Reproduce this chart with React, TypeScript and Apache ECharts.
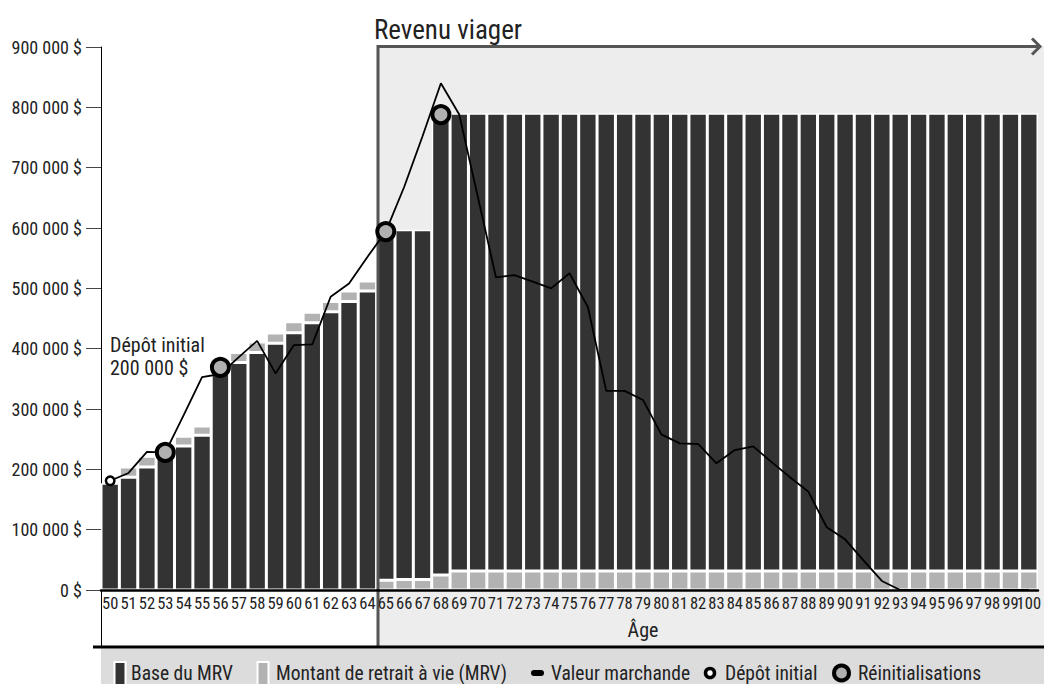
import React, { useEffect, useRef } from "react";
import * as echarts from "echarts";

const FONT = "'Liberation Sans Narrow', 'Roboto Condensed', 'DejaVu Sans Condensed', sans-serif";

const ages = [
  "50", "51", "52", "53", "54", "55", "56", "57", "58", "59",
  "60", "61", "62", "63", "64", "65", "66", "67", "68", "69",
  "70", "71", "72", "73", "74", "75", "76", "77", "78", "79",
  "80", "81", "82", "83", "84", "85", "86", "87", "88", "89",
  "90", "91", "92", "93", "94", "95", "96", "97", "98", "99", "100",
];

// Base du MRV (height of the dark bar)
const baseMRV = [
  177000, 187000, 204000, 220000, 238500, 256500, 367000, 377000, 393500, 409000,
  426500, 443000, 461000, 478000, 495500, 597000, 597000, 597000, 790000, 790000,
  790000, 790000, 790000, 790000, 790000, 790000, 790000, 790000, 790000, 790000,
  790000, 790000, 790000, 790000, 790000, 790000, 790000, 790000, 790000, 790000,
  790000, 790000, 790000, 790000, 790000, 790000, 790000, 790000, 790000, 790000, 790000,
];

// MRV shown on top of the base before 65
const mrvBefore = [
  null, 17000, 17500, 17000, 16500, 15500, 17000, 16500, 17500, 17000,
  18000, 17500, 17000, 17500, 16500, null, null, null, null, null,
  null, null, null, null, null, null, null, null, null, null,
  null, null, null, null, null, null, null, null, null, null,
  null, null, null, null, null, null, null, null, null, null, null,
];

// MRV shown at the bottom of the bar from 65
const mrvAfter = [
  null, null, null, null, null, null, null, null, null, null,
  null, null, null, null, null, 16000, 17500, 17500, 25000, 31500,
  31500, 31500, 31500, 31500, 31500, 31500, 31500, 31500, 31500, 31500,
  31500, 31500, 31500, 31500, 31500, 31500, 31500, 31500, 31500, 31500,
  31500, 31500, 31500, 31500, 31500, 31500, 31500, 31500, 31500, 31500, 31500,
];

// Valeur marchande
const marketValue = [
  181000, 194000, 229000, 228000, 290000, 353000, 358000, 386000, 413000, 359000,
  406000, 407000, 486000, 508000, 552000, 594000, 668000, 752000, 840000, 788000,
  653000, 518000, 522000, 511000, 500000, 525000, 469000, 330000, 330000, 315000,
  258000, 243000, 242000, 210000, 232000, 238000, 212000, 187000, 163000, 104000,
  84000, 49000, 15000, 0, 0, 0, 0, 0, 0, 0, 0,
];

const depositAge = ["50"];
const depositValue = [181000];

const resetAges = ["53", "56", "65", "68"];
const resetValues = [228000, 369000, 594000, 788000];

const yTickLabels = ["0 $", "100 000 $", "200 000 $", "300 000 $", "400 000 $", "500 000 $", "600 000 $", "700 000 $", "800 000 $", "900 000 $"];

const DARK = "#333333";
const GRAY = "#b2b2b2";

export default function App() {
  const ref = useRef<HTMLDivElement>(null);

  useEffect(() => {
    if (!ref.current) return;
    const chart = echarts.init(ref.current, undefined, { renderer: "svg" });

    const darkData = baseMRV.map((b, i) => (mrvAfter[i] != null ? b - (mrvAfter[i] as number) : b));

    const barCommon = {
      type: "bar",
      stack: "total",
      barCategoryGap: "0%",
      barGap: "0%",
      z: 2,
    };

    const txt = (text: string, x: number, y: number, size: number, extra: any = {}) => ({
      type: "text",
      x,
      y,
      z: 50,
      style: {
        text,
        fill: "#222",
        fontSize: size,
        fontFamily: FONT,
        textAlign: "left",
        textVerticalAlign: "middle",
        ...extra,
      },
    });

    const option: any = {
      animation: false,
      backgroundColor: "#ffffff",
      textStyle: { fontFamily: FONT },
      grid: { left: 101, top: 47, width: 940, height: 543, containLabel: false },
      xAxis: {
        type: "category",
        data: ages,
        z: 10,
        axisLine: { show: true, lineStyle: { color: "#000", width: 2.5 } },
        axisTick: { show: false },
        axisLabel: { interval: 0, color: "#222", fontSize: 16.5, margin: 5, fontFamily: FONT },
        splitLine: { show: false },
      },
      yAxis: {
        type: "value",
        min: 0,
        max: 900000,
        interval: 100000,
        axisLine: { show: true, lineStyle: { color: "#000", width: 1 } },
        axisTick: { show: true, length: 15, lineStyle: { color: "#444", width: 1 } },
        axisLabel: {
          margin: 19,
          color: "#222",
          fontSize: 18,
          fontFamily: FONT,
          formatter: (v: number) => yTickLabels[Math.round(v / 100000)],
        },
        splitLine: { show: false },
      },
      series: [
        {
          ...barCommon,
          name: "Montant de retrait à vie (MRV) après 65",
          data: mrvAfter,
          itemStyle: { color: GRAY, borderColor: "#fff", borderWidth: 1.5 },
        },
        {
          ...barCommon,
          name: "Base du MRV",
          data: darkData,
          itemStyle: { color: DARK, borderColor: "#fff", borderWidth: 1.5 },
        },
        {
          ...barCommon,
          name: "Montant de retrait à vie (MRV)",
          data: mrvBefore,
          itemStyle: { color: GRAY, borderColor: "#fff", borderWidth: 1.5 },
        },
        {
          type: "line",
          name: "Valeur marchande",
          data: marketValue,
          symbol: "none",
          z: 4,
          lineStyle: { color: "#000", width: 1.8 },
        },
        {
          type: "scatter",
          name: "Dépôt initial",
          data: depositAge.map((a, i) => [a, depositValue[i]]),
          symbol: "circle",
          symbolSize: 8.5,
          z: 6,
          itemStyle: { color: "#fff", borderColor: "#000", borderWidth: 2.5, opacity: 1 },
        },
        {
          type: "scatter",
          name: "Réinitialisations",
          data: resetAges.map((a, i) => [a, resetValues[i]]),
          symbol: "circle",
          symbolSize: 17,
          z: 6,
          itemStyle: { color: "#b0b0b0", borderColor: "#000", borderWidth: 4, opacity: 1 },
        },
      ],
      graphic: [
        // shaded "Revenu viager" zone
        { type: "rect", z: -1, shape: { x: 378, y: 46, width: 666, height: 601 }, style: { fill: "#ededed" } },
        // divider
        { type: "rect", z: 3, shape: { x: 376.5, y: 45, width: 3, height: 602 }, style: { fill: "#555" } },
        // top arrow
        { type: "line", z: 3, shape: { x1: 377, y1: 46.5, x2: 1040, y2: 46.5 }, style: { stroke: "#555", lineWidth: 3 } },
        {
          type: "polyline",
          z: 3,
          shape: { points: [[1032, 38.5], [1040, 46.5], [1032, 54.5]] },
          style: { stroke: "#555", lineWidth: 3, fill: null },
        },
        txt("Revenu viager", 374, 30, 27),
        // y axis extension and bottom line
        { type: "line", z: 3, shape: { x1: 101.5, y1: 590, x2: 101.5, y2: 647 }, style: { stroke: "#000", lineWidth: 1 } },
        { type: "line", z: 3, shape: { x1: 93, y1: 647, x2: 1044, y2: 647 }, style: { stroke: "#000", lineWidth: 3 } },
        txt("Âge", 643, 630, 20, { textAlign: "center" }),
        txt("Dépôt initial", 110, 345, 20),
        txt("200 000 $", 110, 368, 20),
        // legend
        { type: "rect", z: 1, shape: { x: 101, y: 648.5, width: 943, height: 36 }, style: { fill: "#dcdcdc" } },
        { type: "rect", z: 40, shape: { x: 114.5, y: 662, width: 11, height: 24 }, style: { fill: DARK, stroke: "#fff", lineWidth: 2 } },
        txt("Base du MRV", 131, 673, 19.5),
        { type: "rect", z: 40, shape: { x: 257.5, y: 662, width: 11, height: 24 }, style: { fill: GRAY, stroke: "#fff", lineWidth: 2 } },
        txt("Montant de retrait à vie (MRV)", 276, 673, 19.5),
        { type: "line", z: 40, shape: { x1: 534, y1: 673, x2: 541, y2: 673 }, style: { stroke: "#000", lineWidth: 6, lineCap: "round" } },
        txt("Valeur marchande", 551, 673, 19.5),
        { type: "circle", z: 40, shape: { cx: 710, cy: 673, r: 4.5 }, style: { fill: "#fff", stroke: "#000", lineWidth: 3.5 } },
        txt("Dépôt initial", 725, 673, 19.5),
        { type: "circle", z: 40, shape: { cx: 841.5, cy: 673, r: 7.5 }, style: { fill: "#b0b0b0", stroke: "#000", lineWidth: 4 } },
        txt("Réinitialisations", 858, 673, 19.5),
      ],
    };

    chart.setOption(option);
    return () => chart.dispose();
  }, []);

  return (
    <div
      ref={ref}
      style={{ position: "fixed", left: 0, top: 0, width: 1044, height: 684, background: "#fff" }}
    />
  );
}
